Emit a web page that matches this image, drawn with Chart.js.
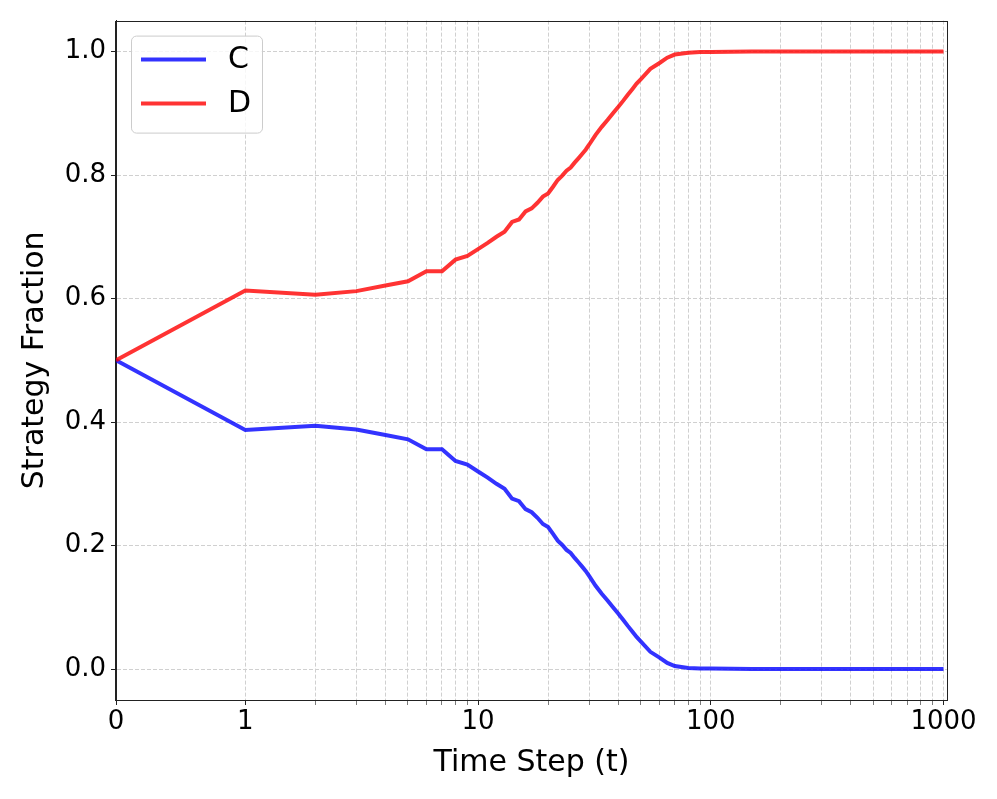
<!DOCTYPE html>
<html>
<head>
<meta charset="utf-8">
<script src="https://cdn.jsdelivr.net/npm/chart.js@4.4.1/dist/chart.umd.min.js"></script>
<style>
  html, body { margin: 0; padding: 0; background: #fff; }
  #wrap { width: 997px; height: 799px; }
</style>
</head>
<body>
<div id="wrap"><canvas id="chart" width="997" height="799"></canvas></div>
<script>
// Strategy fractions over time (symlog x axis)

const seriesNames = ['C', 'D'];
const seriesColors = ['rgba(0,0,255,0.8)', 'rgba(255,0,0,0.8)'];

const steps = [0, 1, 2, 3, 4, 5, 6, 7, 8, 9, 10, 11, 12, 13, 14, 15, 16, 17, 18, 19, 20,
    21, 22, 23, 24, 25, 26, 27, 28, 29, 30, 32, 34, 36, 38, 40, 42, 44, 46, 48, 50,
    55, 60, 65, 70, 80, 90, 100, 150, 200, 300, 500, 1000];

const fracC = [0.500, 0.387, 0.394, 0.388, 0.379, 0.372, 0.356, 0.356, 0.337, 0.331, 0.320,
    0.310, 0.300, 0.292, 0.276, 0.272, 0.259, 0.254, 0.245, 0.235, 0.230,
    0.219, 0.208, 0.201, 0.193, 0.188, 0.180, 0.173, 0.166, 0.159, 0.151,
    0.135, 0.122, 0.111, 0.100, 0.090, 0.080, 0.070, 0.061, 0.052, 0.045,
    0.028, 0.019, 0.010, 0.005, 0.002, 0.001, 0.001, 0.000, 0.000, 0.000, 0.000, 0.000];

const fracD = [0.500, 0.613, 0.606, 0.612, 0.621, 0.628, 0.644, 0.644, 0.663, 0.669, 0.680,
    0.690, 0.700, 0.708, 0.724, 0.728, 0.741, 0.746, 0.755, 0.765, 0.770,
    0.781, 0.792, 0.799, 0.807, 0.812, 0.820, 0.827, 0.834, 0.841, 0.849,
    0.865, 0.878, 0.889, 0.900, 0.910, 0.920, 0.930, 0.939, 0.948, 0.955,
    0.972, 0.981, 0.990, 0.995, 0.998, 0.999, 0.999, 1.000, 1.000, 1.000, 1.000, 1.000];

const xMajorTicks = [0, 1, 10, 100, 1000];
const xMinorTicks = [2, 3, 4, 5, 6, 7, 8, 9, 20, 30, 40, 50, 60, 70, 80, 90,
    200, 300, 400, 500, 600, 700, 800, 900];
const yTicks = [0.0, 0.2, 0.4, 0.6, 0.8, 1.0];

const FONT = 'DejaVu Sans';

// symlog transform, linthresh = 1, linscale = 0.5
const LINSCALE = 0.5 / (1 - 1 / 10);
function symlog(v) {
    const a = Math.abs(v);
    const s = a <= 1 ? a * LINSCALE : LINSCALE + Math.log10(a);
    return v < 0 ? -s : s;
}
function symexp(s) {
    const a = Math.abs(s);
    const v = a <= LINSCALE ? a / LINSCALE : Math.pow(10, a - LINSCALE);
    return s < 0 ? -v : v;
}

class SymlogScale extends Chart.LinearScale {
    buildTicks() {
        return xMajorTicks.concat(xMinorTicks)
            .sort((a, b) => a - b)
            .map(v => ({ value: v }));
    }
    configure() {
        super.configure();
        this._s0 = symlog(this.min);
        this._sRange = symlog(this.max) - this._s0;
    }
    getPixelForValue(v) {
        if (v === null || v === undefined) return NaN;
        return this.getPixelForDecimal((symlog(v) - this._s0) / this._sRange);
    }
    getValueForPixel(p) {
        return symexp(this._s0 + this.getDecimalForPixel(p) * this._sRange);
    }
}
SymlogScale.id = 'symlog';
SymlogScale.defaults = {};
Chart.register(SymlogScale);

// box around the plot area (matplotlib style spines)
const frame = {
    id: 'frame',
    afterDatasetsDraw(chart) {
        const { ctx, chartArea: a } = chart;
        ctx.save();
        ctx.strokeStyle = '#222';
        ctx.lineWidth = 1;
        ctx.strokeRect(Math.round(a.left) - 0.5, Math.round(a.top) + 0.5,
            Math.round(a.right - a.left) + 1, Math.round(a.bottom - a.top));
        ctx.restore();
    }
};

// legend inside the plot, top-left
const legendBox = {
    id: 'legendBox',
    afterDraw(chart) {
        const { ctx, chartArea: a } = chart;
        const x = a.left + 15, y = a.top + 15, w = 131, h = 97, r = 5;
        ctx.save();
        ctx.beginPath();
        ctx.roundRect(x + 0.5, y + 0.5, w, h, r);
        ctx.fillStyle = 'rgba(255,255,255,0.8)';
        ctx.fill();
        ctx.strokeStyle = '#cccccc';
        ctx.lineWidth = 1;
        ctx.stroke();
        chart.data.datasets.forEach((ds, i) => {
            const ly = y + 24 + i * 44;
            ctx.beginPath();
            ctx.moveTo(x + 10, ly);
            ctx.lineTo(x + 75, ly);
            ctx.strokeStyle = ds.borderColor;
            ctx.lineWidth = 4;
            ctx.stroke();
            ctx.fillStyle = '#000';
            ctx.font = `30px "${FONT}"`;
            ctx.textBaseline = 'middle';
            ctx.textAlign = 'left';
            ctx.fillText(ds.label, x + 97, ly + 1);
        });
        ctx.restore();
    }
};

const gridColor = '#d0d0d0';

new Chart(document.getElementById('chart'), {
    type: 'line',
    data: {
        datasets: seriesNames.map((name, i) => ({
            label: name,
            data: steps.map((t, j) => ({ x: t, y: (i === 0 ? fracC : fracD)[j] })),
            borderColor: seriesColors[i],
            borderWidth: 4,
            pointRadius: 0,
            tension: 0,
            fill: false,
            order: 1 - i
        }))
    },
    options: {
        responsive: false,
        animation: false,
        devicePixelRatio: 1,
        layout: { padding: { top: 20, right: 50, left: 0, bottom: 0 } },
        plugins: {
            legend: { display: false },
            tooltip: { enabled: false }
        },
        scales: {
            x: {
                type: 'symlog',
                min: 0,
                max: 1035,
                afterFit: s => { s.height = 99; },
                grid: {
                    color: gridColor,
                    lineWidth: 1,
                    tickLength: 5,
                    tickColor: '#222',
                    tickWidth: c => xMajorTicks.includes(c.tick.value) ? 1 : 0.6
                },
                border: { color: '#222', width: 1, dash: [4, 2] },
                ticks: {
                    autoSkip: false,
                    maxRotation: 0,
                    padding: 2,
                    color: '#000',
                    font: { family: FONT, size: 26 },
                    callback: v => xMajorTicks.includes(v) ? String(v) : ''
                },
                title: {
                    display: true,
                    text: 'Time Step (t)',
                    color: '#000',
                    font: { family: FONT, size: 30 },
                    padding: { top: 0, bottom: 18 }
                }
            },
            y: {
                type: 'linear',
                min: -0.05,
                max: 1.05,
                afterFit: s => { s.width = 116; },
                afterBuildTicks: s => { s.ticks = yTicks.map(v => ({ value: v })); },
                grid: {
                    color: gridColor,
                    lineWidth: 1,
                    tickLength: 5,
                    tickColor: '#222'
                },
                border: { color: '#222', width: 1, dash: [4, 2] },
                ticks: {
                    padding: 5,
                    color: '#000',
                    font: { family: FONT, size: 26 },
                    callback: v => Number(v).toFixed(1)
                },
                title: {
                    display: true,
                    text: 'Strategy Fraction',
                    color: '#000',
                    font: { family: FONT, size: 30 },
                    padding: { top: 17, bottom: 0 }
                }
            }
        }
    },
    plugins: [frame, legendBox]
});
</script>
</body>
</html>
